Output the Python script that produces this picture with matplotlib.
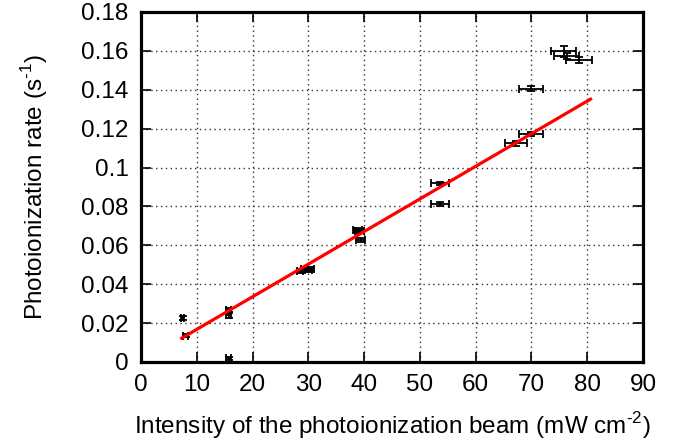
#!/usr/bin/env python3

import numpy as np
import matplotlib.pyplot as plt

plt.rcParams["font.family"] = ["Liberation Sans", "DejaVu Sans"]
plt.rcParams["mathtext.fontset"] = "custom"
plt.rcParams["mathtext.rm"] = "Liberation Sans"

# measured photoionization rates vs beam intensity
intensity = [7.5, 8.0, 15.7, 15.7, 15.7, 28.5, 29.3, 30.0, 30.5, 38.8, 39.2, 39.4,
             53.6, 53.6, 67.2, 69.9, 69.9, 75.8, 76.3, 78.5]
intensity_err = [0.3, 0.4, 0.4, 0.4, 0.4, 0.6, 0.6, 0.6, 0.6, 0.8, 0.8, 0.8,
                 1.6, 1.6, 2.0, 2.1, 2.1, 2.2, 2.2, 2.3]
rate = [0.0228, 0.0135, 0.0268, 0.0240, 0.0020, 0.0470, 0.0478, 0.0472, 0.0480,
        0.0680, 0.0675, 0.0628, 0.0918, 0.0812, 0.1125, 0.1172, 0.1405, 0.1598,
        0.1575, 0.1555]
rate_err = [0.0010, 0.0008, 0.0012, 0.0012, 0.0008, 0.0010, 0.0010, 0.0010, 0.0010,
            0.0010, 0.0010, 0.0010, 0.0010, 0.0010, 0.0012, 0.0012, 0.0012, 0.0028,
            0.0015, 0.0015]

# linear fit through origin
fit_slope = 0.001677
fit_range = [7.3, 80.6]

fig = plt.figure(figsize=(6.87, 4.44), dpi=100)
ax = fig.add_axes([0.2052, 0.1847, 0.7307, 0.7883])

ax.grid(True, linestyle=(0, (1, 2.5)), color="#333333", linewidth=1.0)
ax.set_axisbelow(True)

ax.errorbar(intensity, rate, xerr=intensity_err, yerr=rate_err, fmt="none",
            ecolor="black", elinewidth=1.3, capsize=3, capthick=1.3, zorder=3)

fx = np.array(fit_range)
ax.plot(fx, fit_slope * fx, color="red", linewidth=2.3, zorder=4)

ax.set_xlim(0, 90)
ax.set_ylim(0, 0.18)
ax.set_xticks(np.arange(0, 91, 10))
ax.set_yticks(np.arange(0, 0.181, 0.02))
ax.set_yticklabels(["0", "0.02", "0.04", "0.06", "0.08", "0.1", "0.12",
                    "0.14", "0.16", "0.18"])

for s in ax.spines.values():
    s.set_linewidth(2.3)
ax.tick_params(direction="in", length=7, width=1.2, labelsize=17.5,
               top=True, right=True, pad=9)

ax.set_xlabel(r"Intensity of the photoionization beam (mW cm$^{\text{-2}}$)",
              fontsize=17.5, labelpad=10)
ax.set_ylabel(r"Photoionization rate (s$^{\text{-1}}$)", fontsize=17.5,
              labelpad=22)

fig.savefig("out.png", dpi=100)
